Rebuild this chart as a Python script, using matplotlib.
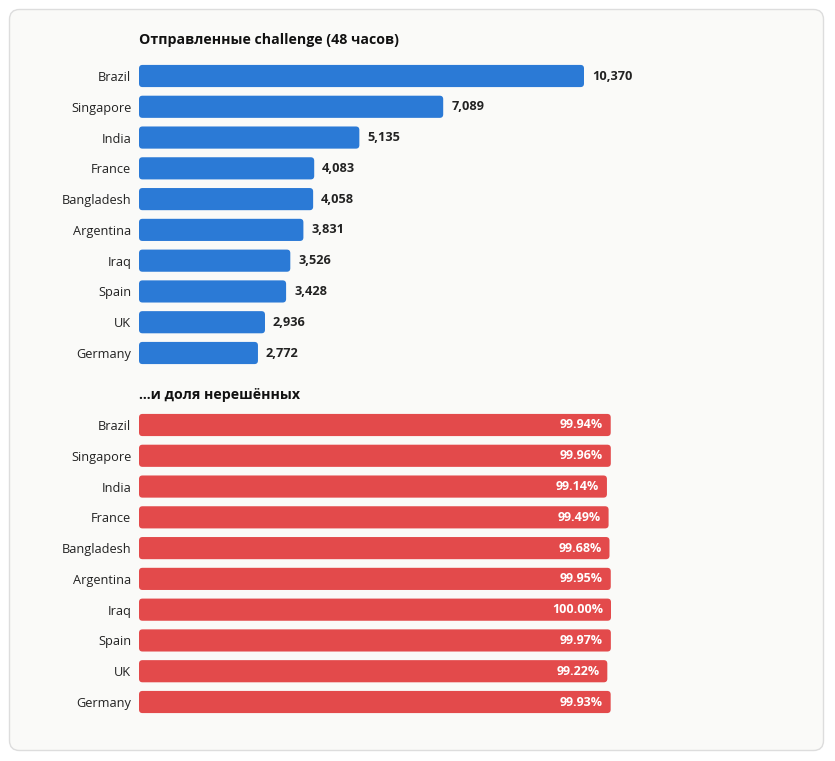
import matplotlib
matplotlib.use("Agg")
import matplotlib.pyplot as plt
from matplotlib.patches import FancyBboxPatch

countries = ["Brazil", "Singapore", "India", "France", "Bangladesh",
             "Argentina", "Iraq", "Spain", "UK", "Germany"]
sent = [10370, 7089, 5135, 4083, 4058, 3831, 3526, 3428, 2936, 2772]
unsolved = [99.94, 99.96, 99.14, 99.49, 99.68, 99.95, 100.00, 99.97, 99.22, 99.93]

title1 = "Отправленные challenge (48 часов)"
title2 = "...и доля нерешённых"

W, H = 835, 761
BLUE = "#2b7ad6"
RED = "#e34a4b"
BG = "#fafaf8"

plt.rcParams['font.family'] = ['Open Sans', 'DejaVu Sans']

fig = plt.figure(figsize=(W / 100, H / 100), dpi=100)
fig.patch.set_facecolor("white")

card = FancyBboxPatch((9.5 / W, 1 - 750.5 / H), 814 / W, 741 / H,
                      boxstyle="round,pad=0,rounding_size=0.012",
                      transform=fig.transFigure, facecolor=BG,
                      edgecolor="#dddddd", linewidth=1.0,
                      mutation_aspect=W / H, zorder=-10)
fig.patches.append(card)


def make_axes(top_px, bottom_px, left_px=139, right_px=811):
    ax = fig.add_axes([left_px / W, 1 - bottom_px / H,
                       (right_px - left_px) / W, (bottom_px - top_px) / H])
    ax.set_facecolor("none")
    ax.set_zorder(5)
    for s in ax.spines.values():
        s.set_visible(False)
    ax.tick_params(left=False, bottom=False, labelbottom=False)
    return ax


def round_bars(ax, bars, px_w, px_h, radius_px=3.5):
    xu = px_w
    yu = px_h
    for b in bars:
        x, y = b.get_x(), b.get_y()
        w, h = b.get_width(), b.get_height()
        r = radius_px / xu
        p = FancyBboxPatch((x, y), w, h,
                           boxstyle=f"round,pad=0,rounding_size={r}",
                           mutation_aspect=(1 / yu) / (1 / xu),
                           facecolor=b.get_facecolor(), edgecolor="none",
                           zorder=2)
        ax.add_patch(p)
        b.remove()


n = len(countries)
row_px = (353 - 76) / 9.0

# Top chart
top1 = 76 - row_px / 2
bot1 = 353 + row_px / 2
ax1 = make_axes(top1, bot1)
xscale1 = (584 - 139) / 10370.0  # px per unit
ax1.set_xlim(0, (811 - 139) / xscale1)
ax1.set_ylim(n - 0.5, -0.5)
ypos = list(range(n))
bars1 = ax1.barh(ypos, sent, height=0.72, color=BLUE)
round_bars(ax1, bars1, xscale1, row_px)
ax1.set_yticks(ypos)
ax1.set_yticklabels(countries, fontsize=9.2, color="#222222")
ax1.tick_params(axis="y", pad=2.0)
for i, v in enumerate(sent):
    ax1.annotate(f"{v:,}", (v, i), xytext=(8, 0), textcoords="offset pixels",
                 ha="left", va="center", fontsize=9.2, fontweight="bold",
                 color="#222222")
fig.text(139 / W, 1 - 40 / H, title1, ha="left", va="center",
         fontsize=10.2, fontweight="bold", color="#111111")

# Bottom chart
top2 = 425 - row_px / 2
bot2 = 702 + row_px / 2
ax2 = make_axes(top2, bot2)
xscale2 = (611 - 139) / 100.0
ax2.set_xlim(0, (811 - 139) / xscale2)
ax2.set_ylim(n - 0.5, -0.5)
bars2 = ax2.barh(ypos, unsolved, height=0.72, color=RED)
round_bars(ax2, bars2, xscale2, row_px)
ax2.set_yticks(ypos)
ax2.set_yticklabels(countries, fontsize=9.2, color="#222222")
ax2.tick_params(axis="y", pad=2.0)
for i, v in enumerate(unsolved):
    ax2.annotate(f"{v:.2f}%", (v, i), xytext=(-8, 0), textcoords="offset pixels",
                 ha="right", va="center", fontsize=9, fontweight="bold",
                 color="white", zorder=3)
fig.text(139 / W, 1 - 395 / H, title2, ha="left", va="center",
         fontsize=10.2, fontweight="bold", color="#111111")

fig.savefig("out.png", dpi=100, facecolor="white")
